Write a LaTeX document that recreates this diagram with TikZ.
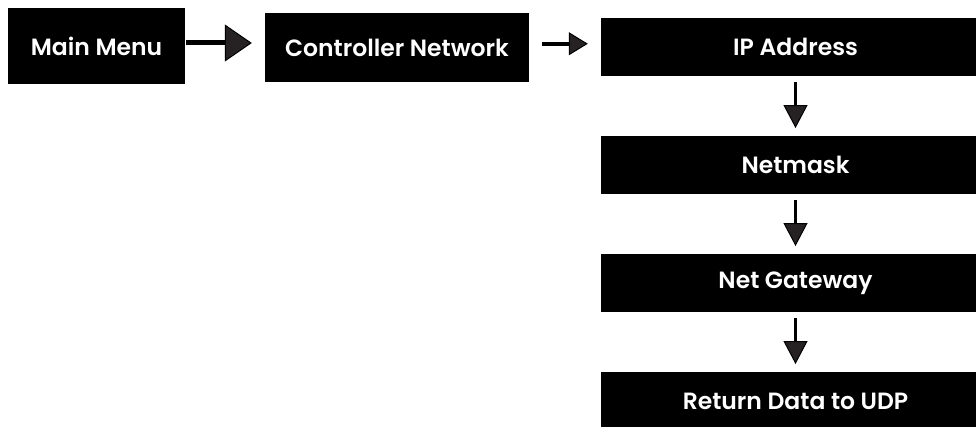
\documentclass[tikz,border=0pt]{standalone}
\usepackage{fontspec}
\setmainfont{Poppins}
\newfontfamily\menufont{Poppins SemiBold}
\usepackage{xcolor}
\usepackage{tikz}
\usetikzlibrary{arrows.meta}
\definecolor{tipgray}{RGB}{38,34,35}

\begin{document}
\begin{tikzpicture}[x=1pt,y=-1pt,
	menubox/.style={fill=black, text=white, inner sep=0pt, font=\menufont\fontsize{23.5}{28}\selectfont},
	wide/.style={menubox, minimum width=389pt, minimum height=57.5pt},
	bigarrow/.style={line width=5pt, -{Triangle[width=37pt,length=27pt,line width=1pt,fill=tipgray]}},
	smallarrow/.style={line width=4pt, -{Triangle[width=23pt,length=19pt,line width=1pt,fill=tipgray]}},
	downarrow/.style={line width=3.5pt, -{Triangle[width=24pt,length=23pt,line width=1pt,fill=tipgray]}}]
	\useasboundingbox (0,0) rectangle (976,427);
	\clip (0,0) rectangle (976,427);
	
	% Hàng trên
	\node[menubox, minimum width=177pt, minimum height=76pt] (mainmenu) at (96.5,46) {Main Menu};
	\node[menubox, minimum width=264pt, minimum height=68.5pt] (ctrlnet) at (397,47.75) {Controller Network};
	
	% Cột bên phải
	\foreach \name/\txt [count=\k from 0] in {ipaddr/IP Address, netmask/Netmask, gateway/Net Gateway, udpret/Return Data to UDP} {
		\node[wide] (\name) at (795.5,47+118*\k) {\txt};
	}
	
	% Mũi tên
	\draw[bigarrow, shorten <=1pt, shorten >=13pt] ([yshift=3pt]mainmenu.east) -- ([yshift=3pt]mainmenu.east -| ctrlnet.west);
	\draw[smallarrow, shorten <=13pt, shorten >=13pt] ([yshift=4pt]ctrlnet.east) -- ([yshift=4pt]ctrlnet.east -| ipaddr.west);
	\foreach \a/\b in {ipaddr/netmask, netmask/gateway, gateway/udpret} {
		\draw[downarrow, shorten <=6pt, shorten >=8pt] (\a) -- (\b);
	}
\end{tikzpicture}
\end{document}
